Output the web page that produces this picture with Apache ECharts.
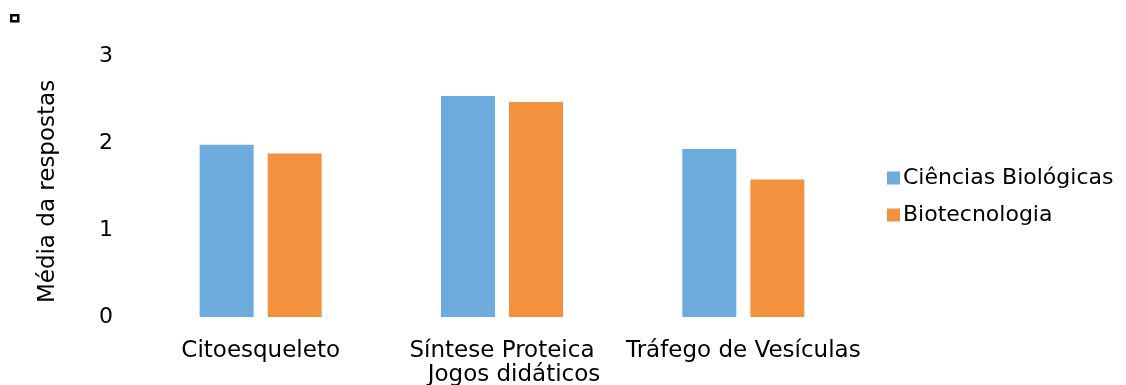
<!DOCTYPE html>
<html>
<head>
<meta charset="utf-8">
<script src="https://cdn.jsdelivr.net/npm/echarts@6/dist/echarts.min.js"></script>
<style>
  html, body { margin: 0; padding: 0; background: #fff; }
  #chart { width: 1126px; height: 385px; }
</style>
</head>
<body>
<div id="chart"></div>
<script>
// Mean scores per didactic game topic, by course
const categories = ['Citoesqueleto', 'Síntese Proteica', 'Tráfego de Vesículas'];
const cienciasBiologicas = [1.98, 2.54, 1.93];
const biotecnologia = [1.88, 2.47, 1.58];
const seriesNames = ['Ciências Biológicas', 'Biotecnologia'];
const yTicks = [0, 1, 2, 3];

const FONT = 'DejaVu Sans';
const TEXT_SIZE = 23;
const chart = echarts.init(document.getElementById('chart'));

chart.setOption({
  animation: false,
  textStyle: { fontFamily: FONT, color: '#000' },
  grid: { left: 140, right: 262, top: 56, bottom: 68, outerBoundsMode: 'none', containLabel: false },
  legend: {
    orient: 'vertical',
    left: 882,
    top: 162,
    itemWidth: 13,
    itemHeight: 13,
    itemGap: 15,
    icon: 'rect',
    textStyle: { fontFamily: FONT, fontSize: TEXT_SIZE - 1, color: '#000', padding: [0, 0, 0, -2] },
    data: seriesNames
  },
  xAxis: {
    type: 'category',
    data: categories,
    name: 'Jogos didáticos',
    nameLocation: 'middle',
    nameGap: 47,
    nameMoveOverlap: false,
    nameTextStyle: { fontFamily: FONT, fontSize: TEXT_SIZE, color: '#000', padding: [0, 0, 0, 24] },
    axisLine: { show: false },
    axisTick: { show: false },
    axisLabel: { fontFamily: FONT, fontSize: TEXT_SIZE, color: '#000', margin: 23, interval: 0 }
  },
  yAxis: {
    type: 'value',
    min: yTicks[0],
    max: yTicks[yTicks.length - 1],
    interval: 1,
    name: 'Média da respostas',
    nameLocation: 'middle',
    nameGap: 80,
    nameTextStyle: { fontFamily: FONT, fontSize: TEXT_SIZE, color: '#000', padding: [0, 10, 0, 0] },
    axisLine: { show: false },
    axisTick: { show: false },
    splitLine: { show: false },
    axisLabel: { fontFamily: FONT, fontSize: 22, color: '#000', margin: 27 }
  },
  series: [
    {
      name: seriesNames[0],
      type: 'bar',
      data: cienciasBiologicas,
      barWidth: 54,
      barGap: '26%',
      itemStyle: { color: '#6CACDC' }
    },
    {
      name: seriesNames[1],
      type: 'bar',
      data: biotecnologia,
      barWidth: 54,
      itemStyle: { color: '#F2923E' }
    }
  ],
  graphic: [
    {
      type: 'rect',
      left: 10,
      top: 14,
      shape: { width: 7, height: 6 },
      style: { fill: '#fff', stroke: '#000', lineWidth: 2.5 }
    }
  ]
});
</script>
</body>
</html>
